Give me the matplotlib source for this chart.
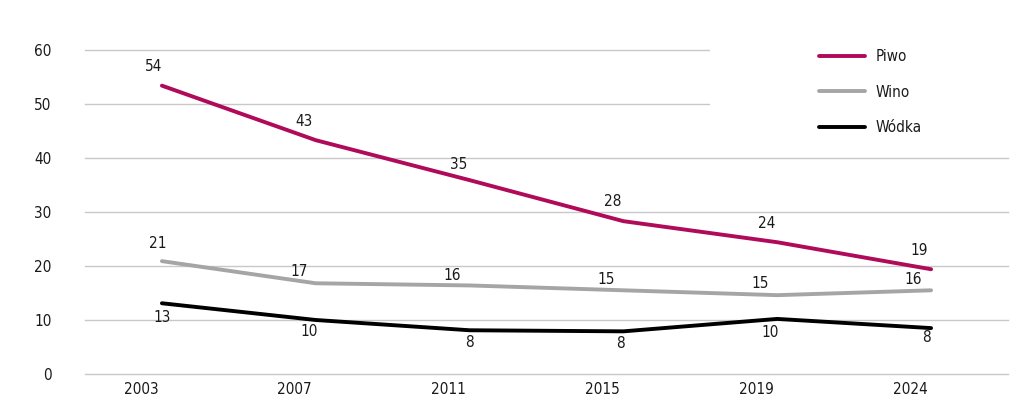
import matplotlib.pyplot as plt
import matplotlib.transforms as mtransforms
from matplotlib.patches import Rectangle

plt.rcParams['font.family'] = ['DejaVu Sans']
plt.rcParams['font.stretch'] = 'condensed'

# dane
lata = ['2003', '2007', '2011', '2015', '2019', '2024']
piwo = [53.4, 43.3, 35.9, 28.3, 24.4, 19.4]
wino = [20.9, 16.8, 16.4, 15.5, 14.6, 15.5]
wodka = [13.1, 10.0, 8.1, 7.9, 10.2, 8.5]
piwo_etyk = [54, 43, 35, 28, 24, 19]
wino_etyk = [21, 17, 16, 15, 15, 16]
wodka_etyk = [13, 10, 8, 8, 10, 8]

# przesuniecia etykiet w pikselach (dx, dy)
off_piwo = [(-8, 19), (-12, 19), (-11, 16), (-11, 20), (-11, 19), (-12, 19)]
off_wino = [(-4, 18), (-17, 12), (-17, 10), (-17, 11), (-17, 12), (-18, 11)]
off_wodka = [(0, -14), (-7, -11), (0, -12), (-3, -12), (-7, -14), (-5, -9)]

kolor_piwo = '#B00A5A'
kolor_wino = '#A5A5A5'
kolor_wodka = '#000000'
tekst = '#1A1A1A'

fig = plt.figure(figsize=(10.24, 4.09), dpi=100)
ax = fig.add_axes([85 / 1024, 35 / 409, 923 / 1024, 324 / 409])

x = list(range(len(lata)))
ax.plot(x, piwo, color=kolor_piwo, lw=2.8, label='Piwo', zorder=3, solid_capstyle='round')
ax.plot(x, wino, color=kolor_wino, lw=2.8, label='Wino', zorder=3, solid_capstyle='round')
ax.plot(x, wodka, color=kolor_wodka, lw=2.8, label='Wódka', zorder=3, solid_capstyle='round')

px = 72 / fig.dpi
for seria, etyk, off in [(piwo, piwo_etyk, off_piwo), (wino, wino_etyk, off_wino),
                         (wodka, wodka_etyk, off_wodka)]:
    for i in x:
        ax.annotate(str(etyk[i]), (i, seria[i]), xytext=(off[i][0] * px, off[i][1] * px),
                    textcoords='offset points', ha='center', va='center',
                    fontsize=11, color=tekst)

ax.set_xlim(-0.5, 5.5)
ax.set_ylim(0, 60)
ax.set_yticks(range(0, 61, 10))
ax.set_xticks(x)
ax.set_xticklabels(lata)
ax.grid(axis='y', color='#C8C8C8', lw=1)
for g in ax.get_ygridlines():
    g.set_clip_on(False)
ax.set_axisbelow(True)
for s in ax.spines.values():
    s.set_visible(False)
ax.tick_params(length=0, labelsize=11, colors=tekst)
ax.tick_params(axis='y', pad=24)
ax.tick_params(axis='x', pad=6)

# etykiety lat przesuniete w lewo
przes = mtransforms.ScaledTranslation(-0.21, 0, fig.dpi_scale_trans)
for lab in ax.get_xticklabels():
    lab.set_transform(lab.get_transform() + przes)

# biale tlo pod legenda
ax.add_patch(Rectangle((0.677, 0.72), 0.33, 0.31, transform=ax.transAxes,
                       facecolor='white', edgecolor='none', zorder=2, clip_on=False))

leg = ax.legend(loc='upper left', bbox_to_anchor=(0.78, 1.045), frameon=False,
                fontsize=11, handlelength=3.0, handletextpad=0.7, labelspacing=1.35)
for t in leg.get_texts():
    t.set_color(tekst)
leg.set_zorder(4)

fig.savefig('out.png', dpi=100)
